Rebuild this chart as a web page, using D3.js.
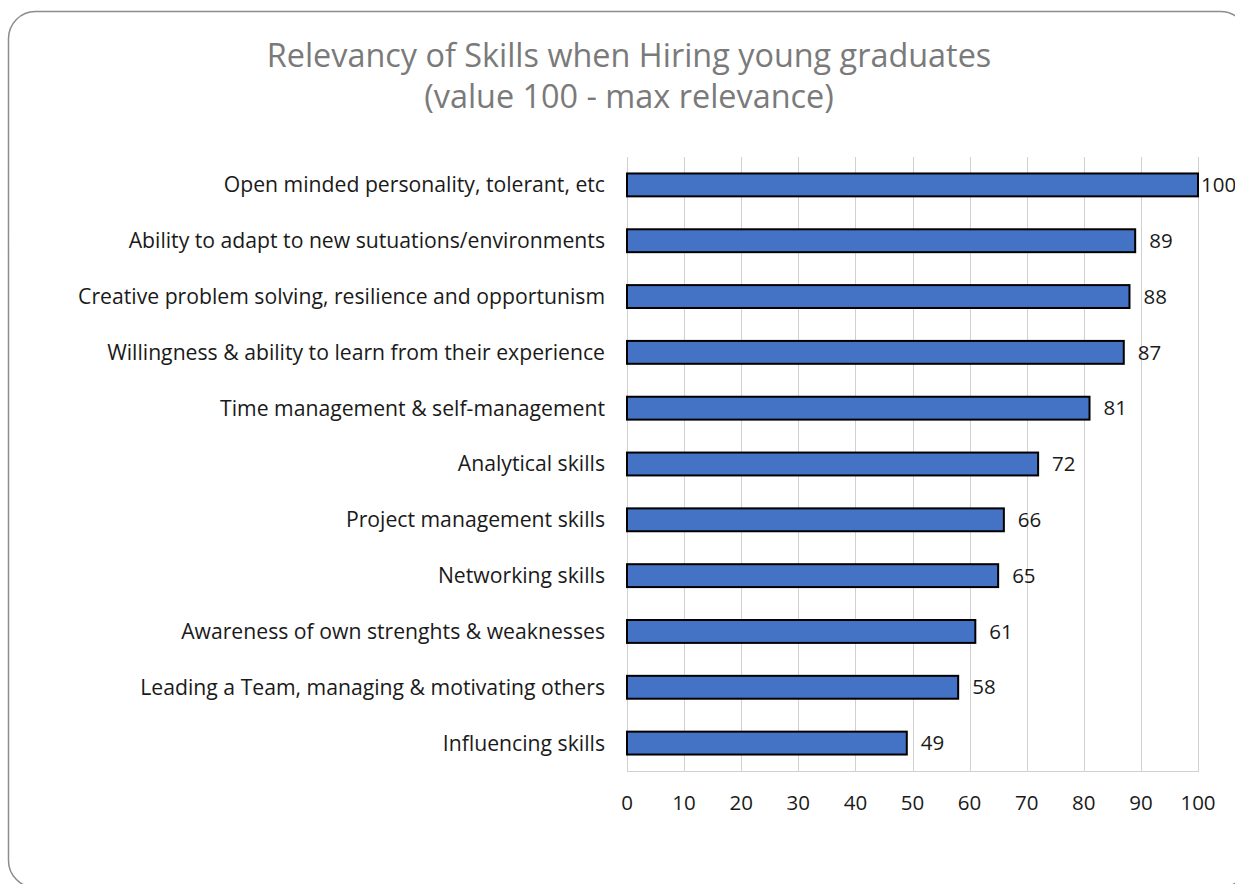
<!DOCTYPE html>
<html>
<head>
<meta charset="utf-8">
<script src="https://cdn.jsdelivr.net/npm/d3@7"></script>
<style>
  html, body { margin: 0; padding: 0; background: #fff; }
  svg { display: block; font-family: "Open Sans", Lato, sans-serif; }
  .cat-label { font-size: 21.2px; fill: #1a1a1a; }
  .tick-label { font-size: 20.5px; fill: #1a1a1a; }
  .value-label { font-size: 20.5px; fill: #1a1a1a; }
  .chart-title { font-size: 32.4px; fill: #7a7a7a; }
</style>
</head>
<body>
<div id="chart"></div>
<script>
const skills = [
  'Open minded personality, tolerant, etc',
  'Ability to adapt to new sutuations/environments',
  'Creative problem solving, resilience and opportunism',
  'Willingness & ability to learn from their experience',
  'Time management & self-management',
  'Analytical skills',
  'Project management skills',
  'Networking skills',
  'Awareness of own strenghts & weaknesses',
  'Leading a Team, managing & motivating others',
  'Influencing skills',
];
const relevance = [100, 89, 88, 87, 81, 72, 66, 65, 61, 58, 49];
const xTicks = [0, 10, 20, 30, 40, 50, 60, 70, 80, 90, 100];
const titleLines = ['Relevancy of Skills when Hiring young graduates', '(value 100 - max relevance)'];

const data = skills.map((skill, i) => ({ skill, value: relevance[i] }));

const width = 1235;
const height = 884;
const margin = { top: 157, right: 37, bottom: 113, left: 627 };
const innerWidth = width - margin.left - margin.right;
const innerHeight = height - margin.top - margin.bottom;

const svg = d3.select('#chart').append('svg').attr('width', width).attr('height', height);

// rounded frame of the chart area; right and bottom edges fall outside the picture
svg.append('rect')
  .attr('x', 8.5)
  .attr('y', 11.5)
  .attr('width', 1239)
  .attr('height', 876)
  .attr('rx', 27)
  .attr('ry', 27)
  .attr('fill', 'none')
  .attr('stroke', '#8c8c8c')
  .attr('stroke-width', 1.5);

svg.append('text')
  .attr('class', 'chart-title')
  .attr('text-anchor', 'middle')
  .selectAll('tspan')
  .data(titleLines)
  .join('tspan')
  .attr('x', 629)
  .attr('y', (d, i) => 67 + i * 41)
  .text((d) => d);

const x = d3.scaleLinear().domain([0, 100]).range([0, innerWidth]);
const y = d3.scaleBand().domain(skills).range([0, innerHeight]).paddingInner(0.59).paddingOuter(0.295);

const g = svg.append('g').attr('transform', `translate(${margin.left},${margin.top})`);

// vertical gridlines
g.append('g')
  .selectAll('line')
  .data(xTicks)
  .join('line')
  .attr('x1', (d) => Math.round(x(d)) + 0.5)
  .attr('x2', (d) => Math.round(x(d)) + 0.5)
  .attr('y1', 0)
  .attr('y2', innerHeight)
  .attr('stroke', '#d0d0d0')
  .attr('stroke-width', 1);

// bottom axis line
g.append('line')
  .attr('x1', 0)
  .attr('x2', x(100) + 1)
  .attr('y1', innerHeight + 0.5)
  .attr('y2', innerHeight + 0.5)
  .attr('stroke', '#d0d0d0');

g.append('g')
  .selectAll('text')
  .data(xTicks)
  .join('text')
  .attr('class', 'tick-label')
  .attr('x', (d) => x(d))
  .attr('y', innerHeight + 32)
  .attr('dy', '0.35em')
  .attr('text-anchor', 'middle')
  .text((d) => d);

g.append('g')
  .selectAll('text')
  .data(data)
  .join('text')
  .attr('class', 'cat-label')
  .attr('x', -22)
  .attr('y', (d) => y(d.skill) + y.bandwidth() / 2)
  .attr('dy', '0.35em')
  .attr('text-anchor', 'end')
  .text((d) => d.skill);

g.append('g')
  .selectAll('rect')
  .data(data)
  .join('rect')
  .attr('x', x(0))
  .attr('y', (d) => y(d.skill))
  .attr('width', (d) => x(d.value) - x(0))
  .attr('height', y.bandwidth())
  .attr('fill', '#4472c4')
  .attr('stroke', '#000')
  .attr('stroke-width', 2);

g.append('g')
  .selectAll('text')
  .data(data)
  .join('text')
  .attr('class', 'value-label')
  .attr('x', (d) => Math.min(x(d.value) + 14, x(100) + 3))
  .attr('y', (d) => y(d.skill) + y.bandwidth() / 2)
  .attr('dy', '0.35em')
  .text((d) => d.value);
</script>
</body>
</html>
